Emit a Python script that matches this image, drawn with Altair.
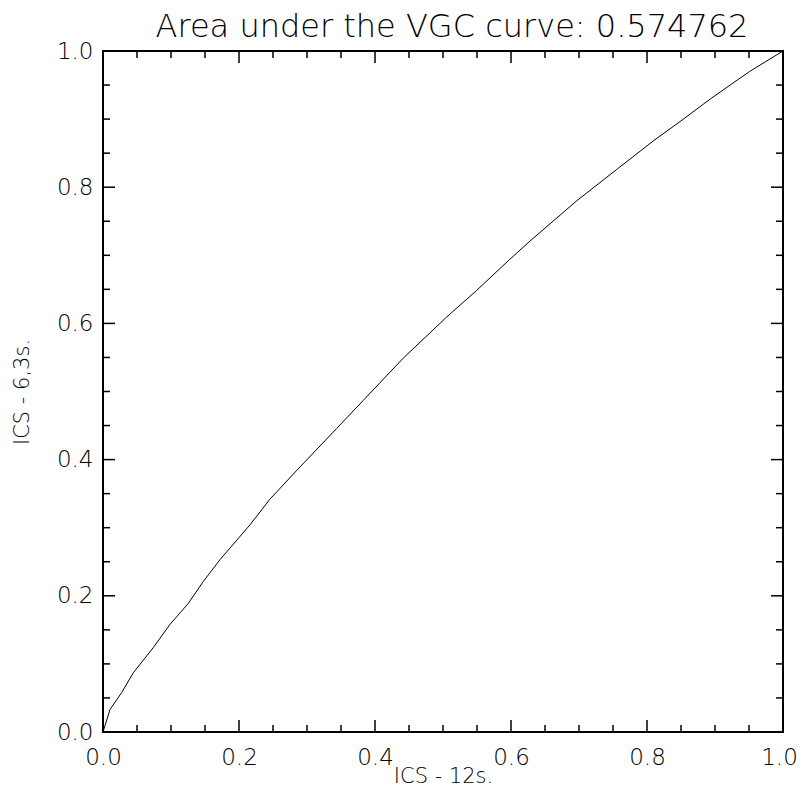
import altair as alt
import pandas as pd

# Curve (x: ICS - 12s., y: ICS - 6,3s.)
curve_x = [0.0, 0.0103, 0.0275, 0.0446, 0.074, 0.0985, 0.1255, 0.1475, 0.172,
           0.216, 0.2456, 0.2857, 0.3436, 0.3828, 0.4416, 0.505, 0.549, 0.596,
           0.628, 0.6966, 0.7554, 0.809, 0.853, 0.895, 0.951, 1.0]
curve_y = [0.0, 0.033, 0.058, 0.087, 0.124, 0.158, 0.189, 0.221, 0.253,
           0.304, 0.342, 0.385, 0.4457, 0.487, 0.549, 0.609, 0.648, 0.692,
           0.721, 0.780, 0.826, 0.8678, 0.8996, 0.931, 0.970, 1.0]

major_ticks = [0.0, 0.2, 0.4, 0.6, 0.8, 1.0]
minor_ticks = [0.05, 0.1, 0.15, 0.25, 0.3, 0.35, 0.45, 0.5, 0.55,
               0.65, 0.7, 0.75, 0.85, 0.9, 0.95]

title_text = "Area under the VGC curve: 0.574762"
x_title = "ICS - 12s."
y_title = "ICS - 6,3s."

W, H = 680, 681
MAJOR_LEN, MINOR_LEN = 12, 7
FONT = "DejaVu Sans"
WEIGHT = 200

df = pd.DataFrame({"x": curve_x, "y": curve_y, "i": list(range(len(curve_x)))})

xscale = alt.Scale(domain=[0, 1], nice=False, zero=False)
yscale = alt.Scale(domain=[0, 1], nice=False, zero=False)

curve = alt.Chart(df).mark_line(color="black", strokeWidth=1).encode(
    x=alt.X("x:Q", scale=xscale,
            axis=alt.Axis(values=major_ticks, format=".1f", title=x_title,
                          ticks=False, domain=False, grid=False,
                          labelPadding=14,
                          labelOffset=alt.condition("datum.value == 1",
                                                    alt.value(-4), alt.value(0)),
                          titleX=W / 2, titleY=50, titleBaseline="alphabetic",
                          titleAlign="center",
                          labelFlush=False, labelOverlap=False)),
    y=alt.Y("y:Q", scale=yscale,
            axis=alt.Axis(values=major_ticks, format=".1f", title=y_title,
                          ticks=False, domain=False, grid=False,
                          labelPadding=10,
                          titleX=-81, titleY=H / 2, titleAngle=270,
                          titleBaseline="middle", titleAlign="center",
                          labelFlush=False, labelOverlap=False)),
    order="i:Q",
)


def x_ticks(vals, length):
    d = pd.DataFrame({"v": vals})
    base = alt.Chart(d).mark_rule(color="black", strokeWidth=1.5)
    bottom = base.encode(x=alt.X("v:Q", scale=xscale),
                         y=alt.value(H), y2=alt.value(H - length))
    top = base.encode(x=alt.X("v:Q", scale=xscale),
                      y=alt.value(0), y2=alt.value(length))
    return [bottom, top]


def y_ticks(vals, length):
    d = pd.DataFrame({"v": vals})
    base = alt.Chart(d).mark_rule(color="black", strokeWidth=1.5)
    left = base.encode(y=alt.Y("v:Q", scale=yscale),
                       x=alt.value(0), x2=alt.value(length))
    right = base.encode(y=alt.Y("v:Q", scale=yscale),
                        x=alt.value(W), x2=alt.value(W - length))
    return [left, right]


title_layer = alt.Chart(pd.DataFrame({"t": [title_text]})).mark_text(
    font=FONT, fontSize=32, fontWeight=WEIGHT, color="black",
    align="center", baseline="alphabetic"
).encode(x=alt.value(W / 2 + 9), y=alt.value(-14), text="t:N")

layers = [curve]
layers += x_ticks(major_ticks, MAJOR_LEN) + x_ticks(minor_ticks, MINOR_LEN)
layers += y_ticks(major_ticks, MAJOR_LEN) + y_ticks(minor_ticks, MINOR_LEN)
layers += [title_layer]

chart = alt.layer(*layers).properties(
    width=W, height=H,
    padding={"left": 95, "top": 43, "right": 14, "bottom": 56},
    autosize="none",
    background="white",
).configure_view(
    stroke="black", strokeWidth=2
).configure_axis(
    labelFont=FONT, labelFontSize=23, labelFontWeight=WEIGHT, labelColor="black",
    titleFont=FONT, titleFontSize=21, titleFontWeight=WEIGHT, titleColor="black",
)

chart.save("out.html", embed_options={"renderer": "svg", "actions": False})
